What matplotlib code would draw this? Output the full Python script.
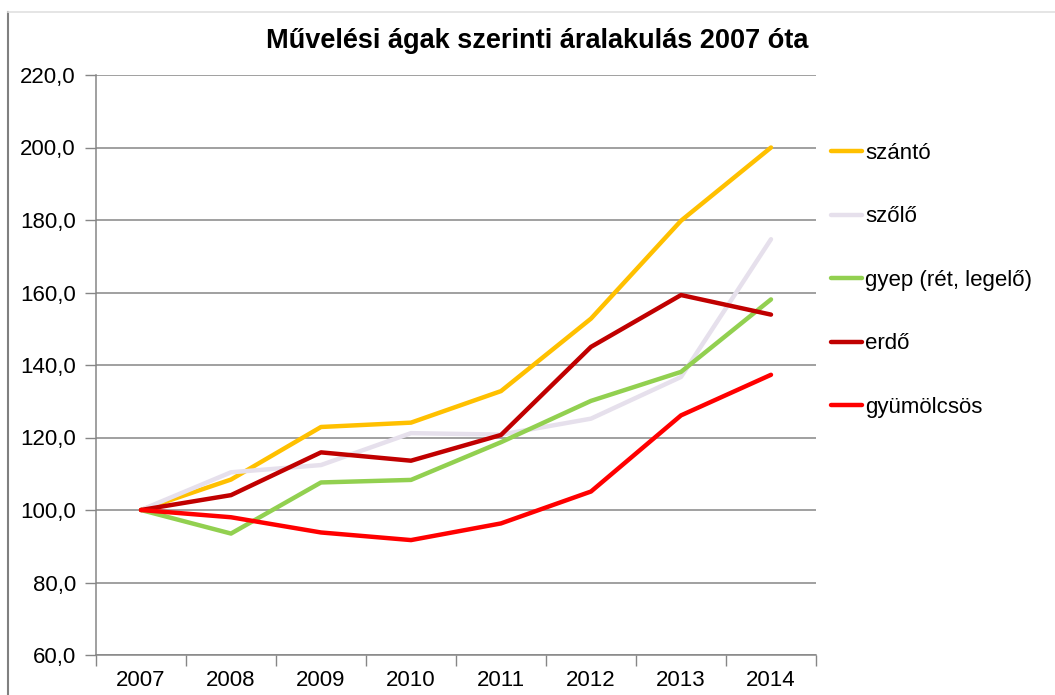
import matplotlib
matplotlib.use("Agg")
import matplotlib.pyplot as plt
from matplotlib.lines import Line2D
from matplotlib.ticker import FuncFormatter, FixedLocator

plt.rcParams['font.family'] = ['Liberation Sans', 'DejaVu Sans']

years = ['2007', '2008', '2009', '2010', '2011', '2012', '2013', '2014']
series_names = ['szántó', 'szőlő', 'gyep (rét, legelő)', 'erdő', 'gyümölcsös']
szanto = [100.0, 108.4, 122.9, 124.1, 132.8, 152.8, 179.8, 200.0]
szolo = [100.0, 110.4, 112.4, 121.2, 120.8, 125.2, 136.7, 174.7]
gyep = [100.0, 93.5, 107.6, 108.3, 118.7, 130.1, 138.1, 158.1]
erdo = [100.0, 104.1, 115.9, 113.6, 120.7, 145.0, 159.3, 153.9]
gyumolcsos = [100.0, 98.0, 93.8, 91.7, 96.3, 105.1, 126.1, 137.3]
colors = ['#FFC000', '#E6E0EC', '#92D050', '#C00000', '#FF0000']
title = 'Művelési ágak szerinti áralakulás 2007 óta'

fig = plt.figure(figsize=(10.55, 6.95), dpi=100)
ax = fig.add_axes([96/1055, 1-655/695, (816-96)/1055, (655-75)/695])

x = list(range(len(years)))
handles = []
for vals, name, c in zip([szanto, szolo, gyep, erdo, gyumolcsos], series_names, colors):
    ln, = ax.plot(x, vals, color=c, lw=3.2, solid_joinstyle='round',
                  solid_capstyle='round', label=name, zorder=3)
    handles.append(ln)

ax.set_xlim(-0.5, len(years) - 0.5)
ax.set_ylim(60, 220)
ax.set_yticks(range(60, 221, 20))
ax.yaxis.set_major_formatter(FuncFormatter(lambda v, p: f"{v:.1f}".replace('.', ',')))
ax.set_xticks(x)
ax.set_xticklabels(years)
ax.xaxis.set_minor_locator(FixedLocator([i - 0.5 for i in range(len(years) + 1)]))
ax.tick_params(axis='x', which='major', length=0, pad=11, labelsize=16)
ax.tick_params(axis='x', which='minor', length=8, width=1, color='#868686', direction='out')
ax.tick_params(axis='y', length=8, width=1, color='#868686', pad=6.5, labelsize=16)

ax.grid(axis='y', color='#868686', lw=1.1, zorder=1)
for s in ['top', 'right']:
    ax.spines[s].set_visible(False)
for s in ['left', 'bottom']:
    ax.spines[s].set_color('#868686')
    ax.spines[s].set_linewidth(1.1)

leg = fig.legend(handles=handles, loc='upper left', bbox_to_anchor=(831/1055, 1-143/695),
                 frameon=False, fontsize=16, handlelength=1.4, handletextpad=0.15,
                 labelspacing=1.91, borderaxespad=0, borderpad=0)

fig.text(537/1055, 1-48/695, title, ha='center', va='baseline', fontsize=19.5,
         fontweight='bold')

# chart area border
fig.add_artist(Line2D([8/1055, 8/1055], [0, 1-12/695], transform=fig.transFigure,
                      color='#808080', lw=1.5))
fig.add_artist(Line2D([8/1055, 1], [1-12/695, 1-12/695], transform=fig.transFigure,
                      color='#E0E0E0', lw=1.2))

fig.savefig('out.png', dpi=100)
